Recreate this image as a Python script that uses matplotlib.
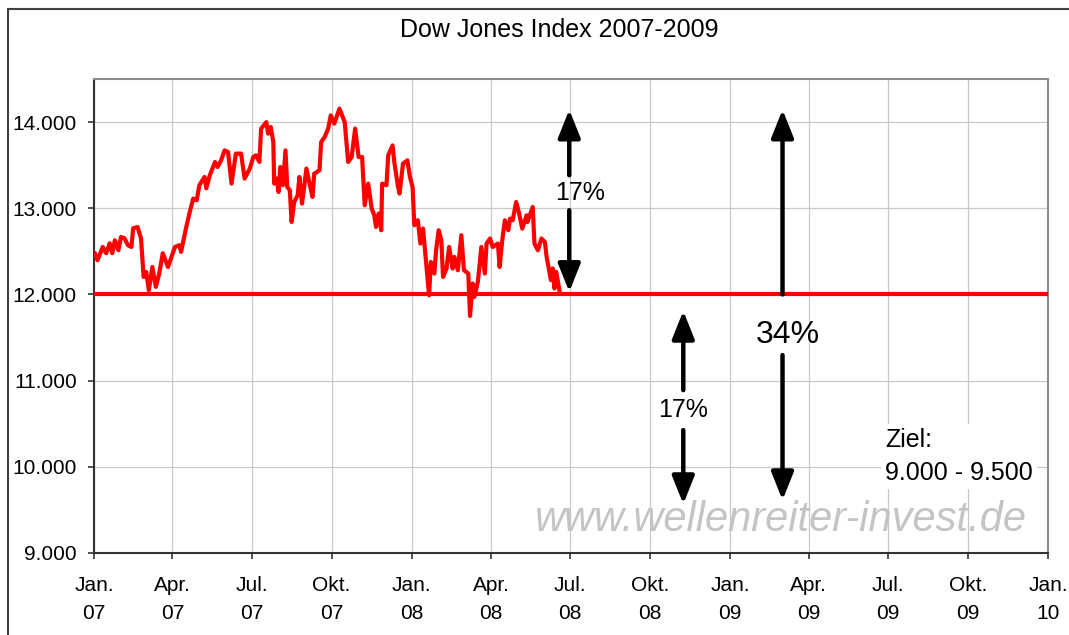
import pandas as pd
import matplotlib
matplotlib.use('Agg')
import matplotlib.pyplot as plt
from matplotlib.patches import Rectangle

plt.rcParams['font.family'] = ['Liberation Sans', 'DejaVu Sans']

# Dow Jones closes (Jan 2007 - Jun 2008)
dates = [
    '2007-01-02', '2007-01-05', '2007-01-11', '2007-01-15', '2007-01-19', '2007-01-22',
    '2007-01-25', '2007-01-29', '2007-02-01', '2007-02-05', '2007-02-09', '2007-02-13',
    '2007-02-15', '2007-02-20', '2007-02-24', '2007-02-27', '2007-03-02', '2007-03-05',
    '2007-03-09', '2007-03-13', '2007-03-17', '2007-03-21', '2007-03-27', '2007-04-04',
    '2007-04-09', '2007-04-11', '2007-04-17', '2007-04-21', '2007-04-25', '2007-04-29',
    '2007-05-02', '2007-05-08', '2007-05-10', '2007-05-14', '2007-05-20', '2007-05-23',
    '2007-05-27', '2007-05-31', '2007-06-04', '2007-06-08', '2007-06-13', '2007-06-19',
    '2007-06-23', '2007-06-29', '2007-07-03', '2007-07-06', '2007-07-10', '2007-07-12',
    '2007-07-18', '2007-07-20', '2007-07-23', '2007-07-26', '2007-07-27', '2007-07-30',
    '2007-08-01', '2007-08-03', '2007-08-06', '2007-08-09', '2007-08-11', '2007-08-14',
    '2007-08-16', '2007-08-19', '2007-08-23', '2007-08-25', '2007-08-28', '2007-09-02',
    '2007-09-06', '2007-09-09', '2007-09-11', '2007-09-17', '2007-09-19', '2007-09-23',
    '2007-09-27', '2007-09-30', '2007-10-04', '2007-10-10', '2007-10-16', '2007-10-20',
    '2007-10-24', '2007-10-28', '2007-11-01', '2007-11-05', '2007-11-08', '2007-11-12',
    '2007-11-16', '2007-11-19', '2007-11-21', '2007-11-24', '2007-11-27', '2007-11-28',
    '2007-12-03', '2007-12-05', '2007-12-10', '2007-12-12', '2007-12-16', '2007-12-18',
    '2007-12-22', '2007-12-27', '2007-12-30', '2008-01-02', '2008-01-04', '2008-01-08',
    '2008-01-11', '2008-01-14', '2008-01-17', '2008-01-21', '2008-01-23', '2008-01-27',
    '2008-01-29', '2008-02-01', '2008-02-04', '2008-02-06', '2008-02-10', '2008-02-13',
    '2008-02-17', '2008-02-19', '2008-02-23', '2008-02-27', '2008-03-01', '2008-03-06',
    '2008-03-08', '2008-03-11', '2008-03-13', '2008-03-17', '2008-03-21', '2008-03-25',
    '2008-03-27', '2008-03-31', '2008-04-03', '2008-04-09', '2008-04-11', '2008-04-14',
    '2008-04-17', '2008-04-21', '2008-04-23', '2008-04-26', '2008-04-30', '2008-05-03',
    '2008-05-07', '2008-05-12', '2008-05-13', '2008-05-19', '2008-05-21', '2008-05-25',
    '2008-05-29', '2008-06-02', '2008-06-04', '2008-06-09', '2008-06-11', '2008-06-13',
    '2008-06-15', '2008-06-19',
]
closes = [
    12475, 12397, 12551, 12478, 12594, 12478,
    12629, 12513, 12667, 12652, 12571, 12551,
    12768, 12783, 12652, 12203, 12261, 12049,
    12319, 12088, 12246, 12478, 12319, 12551,
    12571, 12494, 12783, 12957, 13112, 13093,
    13267, 13363, 13232, 13383, 13537, 13479,
    13556, 13672, 13653, 13286, 13634, 13634,
    13344, 13460, 13595, 13614, 13537, 13924,
    14000, 13866, 13943, 13769, 13286, 13344,
    13189, 13479, 13267, 13672, 13247, 13209,
    12841, 13073, 13151, 13363, 13054, 13460,
    13267, 13131, 13402, 13440, 13769, 13827,
    13924, 14078, 13982, 14156, 14000, 13537,
    13595, 13924, 13595, 13595, 13035, 13286,
    12996, 12919, 12783, 12938, 12745, 13286,
    13267, 13614, 13730, 13537, 13267, 13170,
    13518, 13556, 13363, 13247, 12803, 12861,
    12591, 12764, 12435, 11990, 12377, 12243,
    12513, 12745, 12629, 12203, 12301, 12551,
    12301, 12435, 12281, 12687, 12281, 12243,
    11750, 12127, 11972, 12146, 12551, 12243,
    12591, 12649, 12551, 12591, 12319, 12629,
    12861, 12745, 12880, 12861, 13073, 12957,
    12764, 12919, 12841, 13015, 12591, 12513,
    12649, 12609, 12435, 12165, 12301, 12069,
    12261, 12030,
]
support = 12000

y_ticks = [9000, 10000, 11000, 12000, 13000, 14000]
month_names = {1: 'Jan.', 4: 'Apr.', 7: 'Jul.', 10: 'Okt.'}
tick_dates = pd.date_range('2007-01-01', '2010-01-01', freq='QS')

dates = pd.to_datetime(dates)

fig = plt.figure(figsize=(10.69, 6.35), dpi=100)
ax = fig.add_axes([94 / 1069, 82 / 635, 954 / 1069, 474 / 635])

# outer chart frame (runs past the right/bottom edge like the screenshot)
fig.patches.append(Rectangle((8 / 1069, -0.1), 1.2, 1 - 9 / 635 + 0.1,
                             transform=fig.transFigure, fill=False,
                             edgecolor='#404040', lw=1.5))

fig.text(559 / 1069, 1 - 30 / 635, 'Dow Jones Index 2007-2009',
         ha='center', va='center', fontsize=18)

ax.axhline(support, color='#ff0000', lw=3.0, zorder=3)
ax.plot(dates, closes, color='#ff0000', lw=3.0, zorder=4)

ax.set_xlim(pd.Timestamp('2007-01-01'), pd.Timestamp('2010-01-01'))
ax.set_ylim(9000, 14500)
ax.set_xticks(tick_dates)
ax.set_xticklabels([f'{month_names[d.month]}\n{d.year % 100:02d}' for d in tick_dates],
                   linespacing=1.6)
ax.set_yticks(y_ticks)
ax.set_yticklabels([f'{v:,}'.replace(',', '.') for v in y_ticks])

ax.grid(True, color='#c8c8c8', lw=0.9)
ax.set_axisbelow(True)
for side in ['left', 'bottom']:
    ax.spines[side].set_color('#333333')
    ax.spines[side].set_linewidth(1.5)
for side in ['top', 'right']:
    ax.spines[side].set_color('#8c8c8c')
    ax.spines[side].set_linewidth(1.5)
ax.tick_params(direction='out', length=4.5, width=1.2, color='#333333', labelsize=15)
ax.tick_params(axis='x', pad=12)
ax.tick_params(axis='y', pad=8)

arrow = dict(arrowstyle='-|>,head_width=0.34,head_length=0.85', lw=3.2,
             color='black', mutation_scale=20, shrinkA=0, shrinkB=0)


def draw_arrow(day, start, end):
    ax.annotate('', xy=(pd.Timestamp(day), end), xytext=(pd.Timestamp(day), start),
                arrowprops=arrow, zorder=5)


# 17% up to the support line
draw_arrow('2008-06-30', 13383, 14144)
draw_arrow('2008-06-30', 12977, 12030)
ax.text(pd.Timestamp('2008-07-12'), 13174, '17%', ha='center', va='center', fontsize=18)

# 17% below the support line
draw_arrow('2008-11-08', 10890, 11809)
draw_arrow('2008-11-08', 10426, 9568)
ax.text(pd.Timestamp('2008-11-08'), 10658, '17%', ha='center', va='center', fontsize=18)

# 34% total range
draw_arrow('2009-03-02', 12000, 14144)
draw_arrow('2009-03-02', 11296, 9614)
ax.text(pd.Timestamp('2009-03-08'), 11527, '34%', ha='center', va='center', fontsize=23)

ax.text(0.829, 0.263, 'Ziel:\n9.000 - 9.500', transform=ax.transAxes,
        ha='left', va='top', fontsize=18, linespacing=1.45, zorder=6,
        bbox=dict(facecolor='white', edgecolor='none', pad=3))

ax.text(0.72, 0.07, 'www.wellenreiter-invest.de', transform=ax.transAxes,
        ha='center', va='center', fontsize=30, style='italic', color='#c4c4c4', zorder=2)

fig.savefig('out.png', dpi=100)
